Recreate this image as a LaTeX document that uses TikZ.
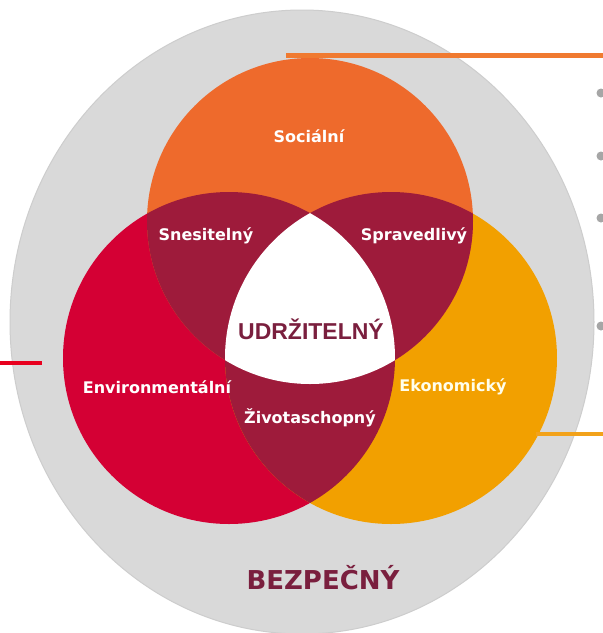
\documentclass[tikz,border=0pt]{standalone}
\usepackage{fontspec}
\setmainfont{DejaVu Sans}
\newfontfamily\udrfont{Liberation Sans}
\definecolor{greyfill}{HTML}{D9D9D9}
\definecolor{greyedge}{HTML}{CDCDCD}
\definecolor{socorange}{HTML}{EE6A2C}
\definecolor{envred}{HTML}{D40034}
\definecolor{ecoyellow}{HTML}{F2A000}
\definecolor{overlap}{HTML}{9E1B3B}
\definecolor{maroon}{HTML}{7A1F3E}
\definecolor{lineorange}{HTML}{F07A30}
\definecolor{linered}{HTML}{E8001E}
\definecolor{lineyellow}{HTML}{F2A21A}
\definecolor{dotgrey}{HTML}{A6A6A6}
\begin{document}
\begin{tikzpicture}[x=1pt,y=-1pt,
  lbl/.style={font=\bfseries\fontsize{16}{16}\selectfont, text=white, inner sep=0pt},
  dotnode/.style={circle, fill=dotgrey, inner sep=0pt, minimum size=9pt},
  leader/.style={line width=4.5pt}]
\useasboundingbox (0,0) rectangle (603,633);
\fill[white] (0,0) rectangle (603,633);
% outer safe ellipse
\filldraw[fill=greyfill, draw=greyedge, line width=1pt] (302,322) ellipse [x radius=292pt, y radius=312pt];
% circle centres
\coordinate (cO) at (310,221);
\coordinate (cR) at (229,358);
\coordinate (cY) at (391,358);
% base circles
\fill[envred] (cR) circle [radius=166pt];
\fill[ecoyellow] (cY) circle [radius=166pt];
\fill[socorange] (cO) circle [radius=163pt];
% pairwise overlaps
\begin{scope}
  \clip (cO) circle [radius=163pt];
  \fill[overlap] (cR) circle [radius=166pt];
  \fill[overlap] (cY) circle [radius=166pt];
\end{scope}
\begin{scope}
  \clip (cR) circle [radius=166pt];
  \fill[overlap] (cY) circle [radius=166pt];
\end{scope}
% triple overlap
\begin{scope}
  \clip (cO) circle [radius=163pt];
  \clip (cR) circle [radius=166pt];
  \fill[white] (cY) circle [radius=166pt];
\end{scope}
% leader lines
\coordinate (oL) at (286,55.5);
\coordinate (oR) at (603,55.5);
\coordinate (rL) at (0,363);
\coordinate (rR) at (42,363);
\coordinate (yL) at (536,434);
\coordinate (yR) at (603,434);
\draw[leader, lineorange] (oL) -- (oR);
\draw[leader, linered] (rL) -- (rR);
\draw[leader, lineyellow] (yL) -- (yR);
% bullet dots
\node[dotnode] (d1) at (601,93) {};
\node[dotnode] (d2) at (601,156) {};
\node[dotnode] (d3) at (601,218) {};
\node[dotnode] (d4) at (601,326) {};
% labels
\node[lbl] (soc) at (309,136) {Sociální};
\node[lbl] (sne) at (206,236) {Snesitelný};
\node[lbl] (spr) at (414,236) {Spravedlivý};
\node[lbl] (env) at (157,387) {Environmentální};
\node[lbl, text=white!92!yellow] (eko) at (453,387) {Ekonomický};
\node[lbl] (ziv) at (310,418) {Životaschopný};
\node[inner sep=0pt, text=maroon, font=\udrfont\bfseries\fontsize{23}{23}\selectfont] (udr) at (311,329) {UDRŽITELNÝ};
\node[inner sep=0pt, text=maroon, font=\bfseries\fontsize{26}{26}\selectfont] (bez) at (323,578) {BEZPEČNÝ};
\end{tikzpicture}
\end{document}
